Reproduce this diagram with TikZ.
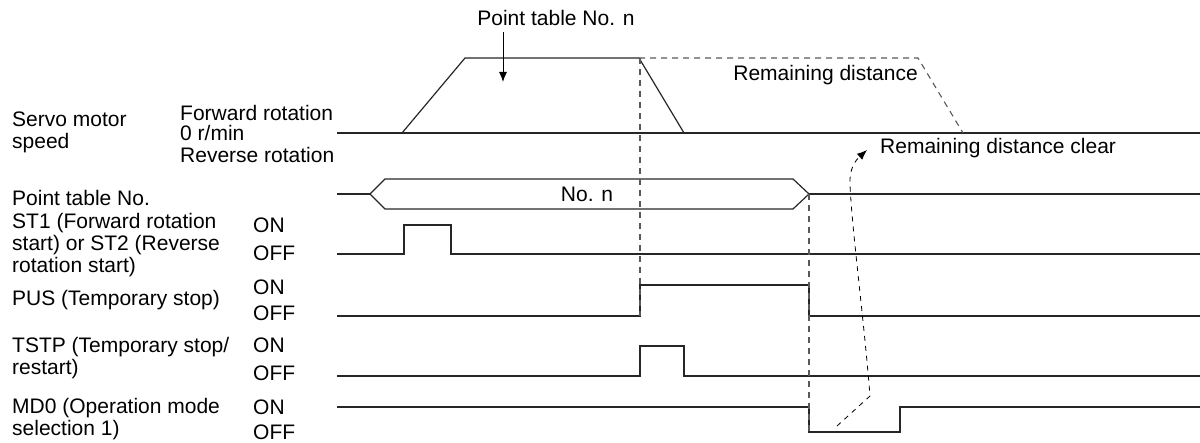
\documentclass[tikz,border=0pt]{standalone}
\usepackage{fontspec}
\setmainfont{Liberation Sans}
\usetikzlibrary{arrows.meta}

\begin{document}
\begin{tikzpicture}[x=1pt,y=-1pt]
			% Styles (MODIFIABLES)
			\tikzstyle{signal}=[line width=1.2pt,black!85]
			\tikzstyle{repere}=[dash pattern=on 6pt off 5pt,line width=1.1pt,black!65]
			\tikzstyle{fleche}=[-{Latex[length=10pt,width=8pt]},line width=1pt]
			\tikzstyle{titre}=[anchor=west,align=left,inner sep=0pt,font=\fontsize{21}{22}\selectfont]
			\tikzstyle{etat}=[anchor=west,inner sep=0pt,font=\fontsize{21}{22}\selectfont]
			\tikzstyle{texte}=[inner sep=0pt,font=\fontsize{21}{22}\selectfont]
			% Dimensions (MODIFIABLES)
			\def\Debut{337}
			\def\Fin{1200}
			\def\ColA{12}
			\def\ColB{180}
			\def\ColC{253}
			\useasboundingbox (0,0) rectangle (1200,443);
			% Libelles
			\node[titre] (vit) at (\ColA,132) {Servo motor\\speed};
			\node[etat] (avant) at (\ColB,113) {Forward rotation};
			\node[etat] (zero) at (\ColB,133) {0 r/min};
			\node[etat] (arriere) at (\ColB,155) {Reverse rotation};
			\node[titre] (tab) at (\ColA,198) {Point table No.};
			\node[titre] (st) at (\ColA,245) {ST1 (Forward rotation\\start) or ST2 (Reverse\\rotation start)};
			\node[etat] (stOn) at (\ColC,225) {ON};
			\node[etat] (stOff) at (\ColC,253) {OFF};
			\node[titre] (pus) at (\ColA,300) {PUS (Temporary stop)};
			\node[etat] (pusOn) at (\ColC,287) {ON};
			\node[etat] (pusOff) at (\ColC,313) {OFF};
			\node[titre] (tstp) at (\ColA,358) {TSTP (Temporary stop/\\restart)};
			\node[etat] (tstpOn) at (\ColC,345) {ON};
			\node[etat] (tstpOff) at (\ColC,373) {OFF};
			\node[titre] (md) at (\ColA,419) {MD0 (Operation mode\\selection 1)};
			\node[etat] (mdOn) at (\ColC,407) {ON};
			\node[etat] (mdOff) at (\ColC,432) {OFF};
			% Textes du chronogramme
			\node[texte] (pt) at (556,18) {Point table No. n};
			\node[texte] (non) at (587,194) {No. n};
			\node[texte,anchor=east] (reste) at (918,75) {Remaining distance};
			\node[texte,anchor=west] (efface) at (880,148) {Remaining distance clear};
			\coordinate (ptH) at (503,32);
			\coordinate (ptB) at (503,82);
			\coordinate (efA) at (837,426);
			\coordinate (efB) at (867,150);
			% Vitesse
			\draw[signal] (\Debut,133) -- (\Fin,133);
			\draw[signal] (402,133) -- (465,58) -- (639,58) -- (684,133);
			\draw[repere] (639,58) -- (918,58) -- (963,133);
			% Numero de table
			\draw[signal] (\Debut,194) -- (370,194);
			\draw[signal] (370,194) -- (385,179) -- (793,179) -- (809,194) -- (793,209) -- (385,209) -- cycle;
			\draw[signal] (809,194) -- (\Fin,194);
			% Signaux ON/OFF
			\draw[signal] (\Debut,254) -- (404,254) -- (404,225) -- (451,225) -- (451,254) -- (\Fin,254);
			\draw[signal] (\Debut,316) -- (640,316) -- (640,285) -- (809,285) -- (809,316) -- (\Fin,316);
			\draw[signal] (\Debut,376) -- (640,376) -- (640,346) -- (684,346) -- (684,376) -- (\Fin,376);
			\draw[signal] (\Debut,407) -- (809,407) -- (809,432) -- (900,432) -- (900,407) -- (\Fin,407);
			% Reperes
			\draw[repere] (640,58) -- (640,316);
			\draw[repere] (809,194) -- (809,432);
			% Fleches
			\draw[fleche] (ptH) -- (ptB);
			\draw[fleche,dash pattern=on 5pt off 5pt,line width=0.8pt] (efA) -- (870,396) .. controls (864,320) and (852,230) .. (850,185) .. controls (849,168) and (856,160) .. (efB);
		\end{tikzpicture}
\end{document}
